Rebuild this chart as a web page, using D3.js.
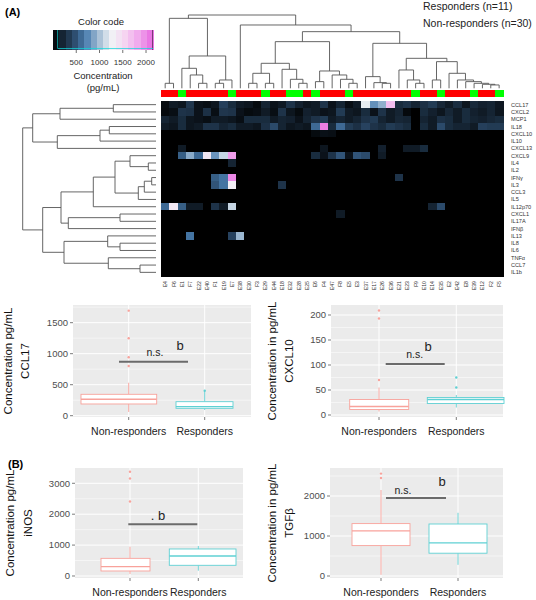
<!DOCTYPE html>
<html><head><meta charset="utf-8">
<script src="https://cdn.jsdelivr.net/npm/d3@7/dist/d3.min.js"></script>
<style>body{margin:0;background:#fff}svg{display:block}text{font-family:"Liberation Sans",Arial,sans-serif}</style>
</head><body><svg id="c" width="536" height="600"></svg>
<script>
var cytokines = ["CCL17","CXCL2","MCP1","IL18","CXCL10","IL10","CXCL13","CXCL9","IL4","IL2","IFNγ","IL3","CCL3","IL5","IL12p70","CXCL1","IL17A","IFNβ","IL13","IL8","IL6","TNFα","CCL7","IL1b"];
var samples = ["E4","F6","E1","F7","E22","E40","F1","E19","E7","E38","E30","F3","E29","E44","E18","E32","E28","E25","E6","F4","E47","F8","E5","E3","E37","E17","E26","E36","E21","E23","F9","E10","E14","E35","E2","E42","E8","E39","E12","F2","F5"];
var sampleGroup = ["N","N","R","N","N","N","N","N","R","N","N","N","R","N","N","R","R","N","R","N","N","N","R","N","N","N","N","N","N","N","R","N","N","R","N","N","N","R","N","N","R"];
var keyTicks = [500,1000,1500,2000];
var boxGroups = ["Non-responders","Responders"];
var ccl17Ticks = [0,500,1000,1500];
var cxcl10Ticks = [0,50,100,150,200];
var inosTicks = [0,1000,2000,3000];
var tgfTicks = [0,1000,2000];
</script>
<script>
var heatValues = [
 [60,150,120,320,100,80,120,380,250,150,120,60,200,100,140,300,180,120,150,300,100,200,80,150,1220,780,920,1690,250,300,200,280,350,220,150,260,120,230,180,200,130],
 [50,80,300,280,100,280,80,320,300,100,60,80,150,80,300,120,60,180,150,100,120,350,150,120,250,100,300,150,200,50,0,250,180,120,220,150,250,180,150,200,120],
 [200,150,250,120,100,80,150,150,120,80,250,250,250,150,200,180,100,200,300,350,150,200,150,200,300,350,200,150,220,200,0,200,150,280,250,150,250,200,180,220,250],
 [150,120,250,120,150,300,300,200,250,150,150,120,280,450,200,120,150,120,600,2050,250,600,350,280,400,300,250,350,300,250,0,250,150,450,250,200,200,150,380,350,350],
 [0,0,0,0,0,0,0,0,0,0,0,0,0,0,0,0,0,0,60,90,80,0,0,0,0,0,0,0,0,0,0,0,0,0,0,0,0,0,0,0,0],
 [0,0,0,0,0,0,0,0,0,0,0,0,0,0,0,0,0,0,0,0,0,0,0,0,0,0,0,0,0,0,0,0,0,0,0,0,0,0,0,0,0],
 [0,0,150,0,0,0,0,0,0,0,0,0,0,0,0,0,0,0,0,120,0,0,0,0,0,0,180,0,0,150,150,250,0,0,0,0,0,0,0,0,0],
 [0,0,550,900,600,1350,800,1100,1900,0,0,0,0,0,0,0,0,0,250,100,300,500,100,500,450,0,150,0,0,0,0,0,0,0,0,0,0,0,0,0,0],
 [0,0,0,0,0,0,0,0,200,0,0,0,0,0,0,0,0,0,0,0,0,0,0,0,0,0,0,0,0,0,0,0,0,0,0,0,0,0,0,0,0],
 [0,0,0,0,0,0,0,0,0,0,0,0,0,0,0,0,0,0,0,0,0,0,0,0,0,0,0,0,0,0,0,0,0,0,0,0,0,0,0,0,0],
 [0,0,0,0,0,0,550,650,2000,0,0,0,0,0,0,0,0,0,0,0,0,0,0,0,0,0,0,0,300,0,0,0,0,0,0,0,0,0,0,0,0],
 [0,0,0,0,0,0,500,650,1300,0,0,0,0,0,300,0,0,0,0,0,0,0,0,0,0,0,0,0,0,0,0,0,0,0,0,0,0,0,0,0,0],
 [0,0,0,0,0,0,0,0,0,0,0,0,0,0,0,0,0,0,0,0,0,0,0,0,0,0,0,0,0,0,0,0,0,0,0,0,0,0,0,0,0],
 [0,0,0,0,0,0,0,0,0,0,0,0,0,0,0,0,0,0,0,0,0,0,0,0,0,0,0,0,0,0,0,0,0,0,0,0,0,0,0,0,0],
 [600,1350,550,150,150,0,300,150,1100,0,0,0,0,0,0,0,0,0,0,0,0,0,0,0,0,0,0,0,0,0,0,0,200,450,0,0,0,0,0,0,0],
 [0,0,0,0,0,0,0,0,0,0,0,0,0,0,0,0,0,0,0,0,0,150,0,0,0,0,0,0,0,0,0,0,0,0,0,0,0,0,0,0,0],
 [0,0,0,0,0,0,0,0,0,0,0,0,0,0,0,0,0,0,0,0,0,0,0,0,0,0,0,0,0,0,0,0,0,0,0,0,0,0,0,0,0],
 [0,0,0,0,0,0,0,0,0,0,0,0,0,0,0,0,0,0,0,0,0,0,0,0,0,0,0,0,0,0,0,0,0,0,0,0,0,0,0,0,0],
 [0,0,0,650,0,0,0,0,400,950,0,0,0,0,0,0,0,0,0,0,0,0,0,0,0,0,0,0,0,0,0,0,0,0,0,0,0,0,0,0,0],
 [0,0,0,0,0,0,0,0,0,0,0,0,0,0,0,0,0,0,0,0,0,0,0,0,0,0,0,0,0,0,0,0,0,0,0,0,0,0,0,0,0],
 [0,0,0,0,0,0,0,0,0,0,0,0,0,0,0,0,0,0,0,0,0,0,0,0,0,0,0,0,0,0,0,0,0,0,0,0,0,0,0,0,0],
 [0,0,0,0,0,0,0,0,0,0,0,0,0,0,0,0,0,0,0,0,0,0,0,0,0,0,0,0,0,0,0,0,0,0,0,0,0,0,0,0,0],
 [0,0,0,0,0,0,0,0,0,0,0,0,0,0,0,0,0,0,0,0,0,0,0,0,0,0,0,0,0,0,0,0,0,0,0,0,0,0,0,0,0],
 [0,0,0,0,0,0,0,0,0,0,0,0,0,0,0,0,0,0,0,0,0,0,0,0,0,0,0,0,0,0,0,0,0,0,0,0,0,0,0,0,0]
];
</script>
<script>
var colMergeA = [-1,-5,-4,-3,-7,5,4,1,-11,-13,9,-17,-16,-15,11,-19,-23,-22,-21,16,15,-27,-26,-25,-31,-30,-29,-33,-40,-39,-38,-37,-36,-35,28,27,24,21,-10,8];
var colMergeB = [-2,-6,2,3,-8,-9,6,7,-12,-14,10,-18,12,13,14,-20,-24,17,18,19,20,-28,22,23,-32,25,26,-34,-41,29,30,31,32,33,34,35,36,37,38,39];
var colMergeH = [1.5,1.5,4,6,1.5,2.5,9.7,21,1.5,1.5,4.5,1.5,2.7,5.7,7.5,2,1.5,2.7,4,5.2,14,1.5,1.7,3.5,1.5,2.5,5.5,2.5,1,1.2,1.5,2,2.5,4.5,8,9,13.5,17,19,22];
var rowMergeA = [-1,1,-4,3,4,2,-9,-8,-11,9,10,8,12,-16,14,13,-20,-19,-23,-22,18,16,6];
var rowMergeB = [-2,-3,-5,-6,-7,5,-10,7,-12,-13,-14,11,-15,-17,-18,15,-21,17,-24,19,20,21,22];
var rowMergeH = [42.7,96,46.7,56,98.7,123.3,7.7,26,4.3,11.7,17.7,41,62.7,36,87.7,95,36,48.3,16,47.7,92,113.3,133.3];
</script>
<script>
var ccl17Stats = [{lo:60,q1:189,med:265,q3:345,hi:532,out:[802,942,1248,1694]},{lo:92,q1:119,med:145,q3:226,hi:403,out:[403]}];
var cxcl10Stats = [{lo:7,q1:11,med:17,q3:31,hi:55,out:[70,193,209]},{lo:15,q1:23,med:31,q3:35,hi:40,out:[55,75]}];
var inosStats = [{lo:65,q1:162,med:301,q3:571,hi:948,out:[2411,3155,3372]},{lo:172,q1:346,med:647,q3:874,hi:971,out:[]}];
var tgfStats = [{lo:30,q1:760,med:1130,q3:1310,hi:2150,out:[2450,2560]},{lo:280,q1:570,med:830,q3:1300,hi:1580,out:[]}];
</script>
<script>
var svg = d3.select("#c");
var color = d3.scaleLinear()
  .domain([0,200,450,700,950,1250,1550,1850,2150])
  .range(["#000000","#152433","#2b4a6a","#4a7eb0","#9ab6d0","#f0f3f5","#f6d3f1","#f0a6ec","#e86ae0"]);
var X = d3.scaleBand().domain(d3.range(samples.length)).range([161,503.3]);
var Y = d3.scaleBand().domain(d3.range(cytokines.length)).range([101,276]);
</script>
<script>
var hm = svg.append("g").attr("shape-rendering","crispEdges");
heatValues.forEach(function(row,r){ row.forEach(function(v,c){
  hm.append("rect").attr("x",X(c)).attr("y",Y(r)).attr("width",X.bandwidth()+0.5).attr("height",Y.bandwidth()+0.5).attr("fill",color(v));
});});
svg.append("g").attr("shape-rendering","crispEdges").selectAll("rect").data(sampleGroup).join("rect")
  .attr("x",function(d,i){return X(i);}).attr("y",90).attr("width",X.bandwidth()+0.5).attr("height",7)
  .attr("fill",function(d){return d==="R"?"#00ff00":"#ff0000";});
</script>
<script>
var gD = svg.append("g").attr("fill","none").attr("stroke","#555").attr("stroke-width",0.9);
var colH = d3.scaleLinear().domain([0,22]).range([88.3,15]);
var colNodes = [];
function colRef(v){ return v<0 ? {x:X(-v-1)+X.bandwidth()/2,h:0} : colNodes[v-1]; }
colMergeA.forEach(function(av,k){
  var a=colRef(av), b=colRef(colMergeB[k]), h=colMergeH[k];
  gD.append("path").attr("d","M"+a.x+","+colH(a.h)+"V"+colH(h)+"H"+b.x+"V"+colH(b.h));
  colNodes.push({x:(a.x+b.x)/2,h:h});
});
var rowH = d3.scaleLinear().domain([0,133.3]).range([156,22.7]);
var rowNodes = [];
function rowRef(v){ return v<0 ? {y:Y(-v-1)+Y.bandwidth()/2,h:0} : rowNodes[v-1]; }
rowMergeA.forEach(function(av,k){
  var a=rowRef(av), b=rowRef(rowMergeB[k]), h=rowMergeH[k];
  gD.append("path").attr("d","M"+rowH(a.h)+","+a.y+"H"+rowH(h)+"V"+b.y+"H"+rowH(b.h));
  rowNodes.push({y:(a.y+b.y)/2,h:h});
});
</script>
<script>
svg.append("g").selectAll("text").data(cytokines).join("text")
  .attr("x",511).attr("y",function(d,i){return Y(i)+Y.bandwidth()/2+2;}).attr("font-size",5.6).attr("fill","#333").text(function(d){return d;});
svg.append("g").selectAll("text").data(samples).join("text")
  .attr("transform",function(d,i){return "translate("+(X(i)+X.bandwidth()/2+2)+",281) rotate(-90)";})
  .attr("text-anchor","end").attr("font-size",5.2).attr("fill","#333").text(function(d){return d;});
svg.append("text").attr("x",423).attr("y",10).attr("font-size",10.5).attr("fill","#222").text("Responders (n=11)");
svg.append("text").attr("x",423).attr("y",27).attr("font-size",10.5).attr("fill","#222").text("Non-responders (n=30)");
svg.append("text").attr("x",5).attr("y",16).attr("font-size",11).attr("font-weight","bold").text("(A)");
var kx = d3.scaleLinear().domain([0,2150]).range([53,153]);
var nb=16, stp=2150/nb;
svg.append("g").attr("shape-rendering","crispEdges").selectAll("rect").data(d3.range(nb)).join("rect")
  .attr("x",function(i){return kx(i*stp);}).attr("y",30).attr("width",kx(stp)-kx(0)+0.5).attr("height",20)
  .attr("fill",function(i){return color((i+0.5)*stp);});
svg.append("rect").attr("x",152).attr("y",30).attr("width",1).attr("height",20).attr("fill","#7a3a78");
svg.append("path").attr("d","M"+kx(100)+",30V48.5H"+kx(2150)).attr("fill","none").attr("stroke","#10d8d8").attr("stroke-width",0.9).attr("opacity",0.8);
svg.append("g").selectAll("line").data(keyTicks).join("line")
  .attr("x1",function(d){return kx(d);}).attr("x2",function(d){return kx(d);}).attr("y1",50).attr("y2",53).attr("stroke","#333").attr("stroke-width",0.7);
svg.append("g").selectAll("text").data(keyTicks).join("text")
  .attr("x",function(d){return kx(d);}).attr("y",65).attr("text-anchor","middle").attr("font-size",8).attr("fill","#333").text(function(d){return d;});
svg.append("text").attr("x",101).attr("y",25).attr("text-anchor","middle").attr("font-size",9.5).attr("fill","#222").text("Color code");
svg.append("text").attr("x",103).attr("y",79).attr("text-anchor","middle").attr("font-size",9.5).attr("fill","#222").text("Concentration");
svg.append("text").attr("x",103).attr("y",91).attr("text-anchor","middle").attr("font-size",9.5).attr("fill","#222").text("(pg/mL)");
</script>
<script>
var cols = {"Non-responders":"#f8a29b","Responders":"#5fd0d3"};
function boxPanel(o){
  var g = svg.append("g");
  var y = d3.scaleLinear().domain(o.dom).range([o.y1,o.y0]);
  var x = d3.scalePoint().domain(boxGroups).range(o.cx);
  g.append("rect").attr("x",o.x0).attr("y",o.y0).attr("width",o.x1-o.x0).attr("height",o.y1-o.y0).attr("fill","#ebebeb");
  var minors=[], half=(o.ticks[1]-o.ticks[0])/2;
  o.ticks.forEach(function(t){ if(y(t+half)>o.y0){ minors.push(t+half); } });
  g.selectAll(".mn").data(minors).join("line").attr("x1",o.x0).attr("x2",o.x1).attr("y1",function(d){return y(d);}).attr("y2",function(d){return y(d);}).attr("stroke","#fff").attr("stroke-width",0.5);
  g.selectAll(".mj").data(o.ticks).join("line").attr("x1",o.x0).attr("x2",o.x1).attr("y1",function(d){return y(d);}).attr("y2",function(d){return y(d);}).attr("stroke","#fff").attr("stroke-width",1);
  g.selectAll(".vx").data(boxGroups).join("line").attr("x1",function(d){return x(d);}).attr("x2",function(d){return x(d);}).attr("y1",o.y0).attr("y2",o.y1).attr("stroke","#fff").attr("stroke-width",1);
  g.selectAll(".tk").data(o.ticks).join("line").attr("x1",o.x0-3).attr("x2",o.x0).attr("y1",function(d){return y(d);}).attr("y2",function(d){return y(d);}).attr("stroke","#444").attr("stroke-width",0.7);
  g.selectAll(".tl").data(o.ticks).join("text").attr("x",o.x0-5).attr("y",function(d){return y(d)+3.3;}).attr("text-anchor","end").attr("font-size",9.5).attr("fill","#4d4d4d").text(function(d){return d;});
  g.selectAll(".xk").data(boxGroups).join("line").attr("x1",function(d){return x(d);}).attr("x2",function(d){return x(d);}).attr("y1",o.y1).attr("y2",o.y1+3).attr("stroke","#444").attr("stroke-width",0.7);
  g.selectAll(".xl").data(boxGroups).join("text").attr("x",function(d){return x(d);}).attr("y",o.y1+18).attr("text-anchor","middle").attr("font-size",10.5).attr("fill","#222").text(function(d){return d;});
  o.stats.forEach(function(s,i){
    var k=boxGroups[i], c=cols[k], cx=x(k), bl=cx-o.bw[i][0], br=cx+o.bw[i][1];
    g.append("line").attr("x1",cx).attr("x2",cx).attr("y1",y(s.hi)).attr("y2",y(s.q3)).attr("stroke",c).attr("stroke-width",0.9);
    g.append("line").attr("x1",cx).attr("x2",cx).attr("y1",y(s.q1)).attr("y2",y(s.lo)).attr("stroke",c).attr("stroke-width",0.9);
    g.append("rect").attr("x",bl).attr("y",y(s.q3)).attr("width",br-bl).attr("height",y(s.q1)-y(s.q3)).attr("fill","#fff").attr("stroke",c).attr("stroke-width",0.9);
    g.append("line").attr("x1",bl).attr("x2",br).attr("y1",y(s.med)).attr("y2",y(s.med)).attr("stroke",c).attr("stroke-width",1.3);
    s.out.forEach(function(v){ g.append("circle").attr("cx",cx).attr("cy",y(v)).attr("r",1.2).attr("fill",c); });
  });
  g.append("line").attr("x1",o.sig[0]).attr("x2",o.sig[1]).attr("y1",o.sig[2]).attr("y2",o.sig[2]).attr("stroke","#6b6b6b").attr("stroke-width",2);
  g.append("text").attr("x",o.ns[0]).attr("y",o.ns[1]).attr("text-anchor","middle").attr("font-size",o.nsSize||10.5).attr("fill","#222").text(o.ns[2]);
  if(o.b){ g.append("text").attr("x",o.b[0]).attr("y",o.b[1]).attr("text-anchor","middle").attr("font-size",13).attr("fill","#222").text("b"); }
  var my=(o.y0+o.y1)/2;
  g.append("text").attr("transform","translate("+o.t1+","+my+") rotate(-90)").attr("text-anchor","middle").attr("font-size",11.5).attr("fill","#111").text(o.title1);
  g.append("text").attr("transform","translate("+o.t2+","+my+") rotate(-90)").attr("text-anchor","middle").attr("font-size",11.5).attr("fill","#111").text(o.title2);
}
boxPanel({x0:73,x1:251,y0:305,y1:417,dom:[-21,1785],ticks:ccl17Ticks,cx:[128.7,204.7],stats:ccl17Stats,bw:[[47.7,28],[28.7,28.3]],sig:[119,188,361.7],ns:[155,356,"n.s."],b:[180,350],t1:12,t2:29,title1:"Concentration pg/mL",title2:"CCL17"});
boxPanel({x0:331,x1:503,y0:305,y1:417,dom:[-4,220],ticks:cxcl10Ticks,cx:[379,456.3],stats:cxcl10Stats,bw:[[29.3,29.7],[29,47.7]],sig:[385.7,444.7,364],ns:[414.7,358,"n.s."],b:[428,351],t1:276,t2:293,title1:"Concentration in pg/mL",title2:"CXCL10"});
boxPanel({x0:75,x1:243,y0:468,y1:578,dom:[-65,3495],ticks:inosTicks,cx:[130,198.3],stats:inosStats,bw:[[29,20],[29,37.7]],sig:[128.3,197.3,524.3],ns:[158,520,". b"],nsSize:13,b:null,t1:14,t2:32,title1:"Concentration pg/mL",title2:"iNOS"});
boxPanel({x0:330,x1:503,y0:468,y1:578,dom:[-50,2700],ticks:tgfTicks,cx:[381,458],stats:tgfStats,bw:[[29,29],[29,29]],sig:[386,446,498],ns:[403,494,"n.s."],b:[442,486],t1:276,t2:293,title1:"Concentration in pg/mL",title2:"TGFβ"});
svg.append("text").attr("x",8).attr("y",468).attr("font-size",11).attr("font-weight","bold").text("(B)");
</script></body></html>
